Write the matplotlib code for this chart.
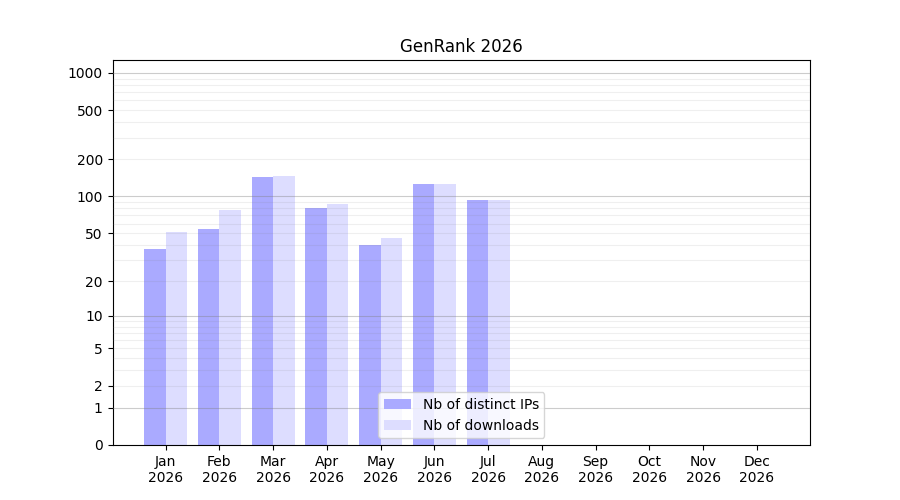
import matplotlib
matplotlib.use("Agg")
import matplotlib.pyplot as plt
import numpy as np
from matplotlib.ticker import NullLocator

# -------------------------------
# Data
# -------------------------------
months = ["Jan", "Feb", "Mar", "Apr", "May", "Jun",
          "Jul", "Aug", "Sep", "Oct", "Nov", "Dec"]
year = "2026"
distinct_ips = [37, 54, 144, 80, 40, 126, 94, 0, 0, 0, 0, 0]
downloads = [51, 78, 147, 87, 46, 126, 94, 0, 0, 0, 0, 0]

ytick_values = [0, 1, 2, 5, 10, 20, 50, 100, 200, 500, 1000]
major_grid = [1, 10, 100, 1000]
minor_grid = [m * 10 ** k for k in range(3) for m in range(2, 10)]

# -------------------------------
# Styling
# -------------------------------
ips_color = "#aaaaff"
dl_color = "#ddddff"


def fwd(v):
    return np.log10(1 + np.asarray(v, dtype=float))


def inv(v):
    return 10 ** np.asarray(v, dtype=float) - 1


fig, ax = plt.subplots(figsize=(9, 5), dpi=100)

x = np.arange(len(months))
width = 0.4

ax.bar(x - width / 2, distinct_ips, width, color=ips_color, label="Nb of distinct IPs")
ax.bar(x + width / 2, downloads, width, color=dl_color, label="Nb of downloads")

ax.set_yscale("function", functions=(fwd, inv))
ax.set_ylim(0, 1270)
ax.set_yticks(ytick_values)
ax.set_yticklabels([str(v) for v in ytick_values])
ax.yaxis.set_minor_locator(NullLocator())

# grid drawn over the bars
for v in minor_grid:
    ax.axhline(v, color="gray", linewidth=0.8, alpha=0.12, zorder=3)
for v in major_grid:
    ax.axhline(v, color="gray", linewidth=0.8, alpha=0.4, zorder=3)

ax.set_xticks(x)
ax.set_xticklabels([f"{m}\n{year}" for m in months])

ax.set_title("GenRank 2026")
ax.legend(loc="lower center")

plt.savefig("out.png", dpi=100)
plt.close(fig)
